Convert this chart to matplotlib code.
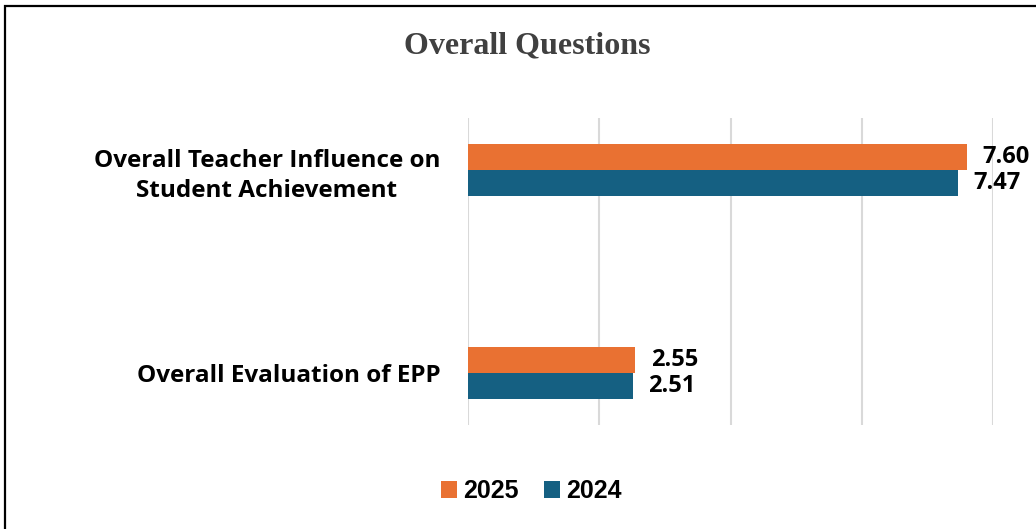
import numpy as np
import matplotlib.pyplot as plt
from matplotlib.patches import Rectangle

categories = ['Overall Teacher Influence on\nStudent Achievement', 'Overall Evaluation of EPP']
v2025 = [7.60, 2.55]
v2024 = [7.47, 2.51]
years = ['2025', '2024']
colors = {'2025': '#E97132', '2024': '#156082'}

fig = plt.figure(figsize=(10.36, 5.29), dpi=100)
W, H = 1036, 529

# frame line at top and left
fig.add_artist(Rectangle((5 / W, -0.1), 1.2, 1 - 6 / H + 0.1, transform=fig.transFigure,
                         fill=False, edgecolor='black', linewidth=1.6))

ax = fig.add_axes([468 / W, 1 - 425 / H, (993 - 468) / W, (425 - 118) / H])

y = np.array([1, 0])
h = 0.128
b1 = ax.barh(y + h / 2, v2025, h, color=colors['2025'], label='2025', zorder=3)
b2 = ax.barh(y - h / 2, v2024, h, color=colors['2024'], label='2024', zorder=3)

lab_font = dict(family='Open Sans', weight='bold', size=17.5)
ax.bar_label(b1, labels=['%.2f' % v for v in v2025], padding=11, fontsize=17,
             fontweight='bold', family='Open Sans', color='black')
ax.bar_label(b2, labels=['%.2f' % v for v in v2024], padding=11, fontsize=17,
             fontweight='bold', family='Open Sans', color='black')

ax.set_xlim(0, 8)
ax.set_ylim(-0.256, 1.256)
ax.set_xticks([0, 2, 4, 6, 8])
ax.set_xticklabels([])
ax.xaxis.grid(True, color='#d9d9d9', linewidth=1.5, zorder=0)
ax.tick_params(axis='x', length=0)
ax.set_yticks(y)
ax.set_yticklabels(categories, fontdict=lab_font, multialignment='center', linespacing=1.35)
ax.tick_params(axis='y', length=0, pad=20)
for s in ax.spines.values():
    s.set_visible(False)

fig.text(527 / W, 1 - 46 / H, 'Overall Questions', ha='center', va='center',
         family='Liberation Serif', weight='bold', size=23, color='#404040')

fig.legend(handles=[b1, b2], labels=years, loc='center', bbox_to_anchor=(531 / W, 1 - 491 / H),
           ncol=2, frameon=False, prop=dict(family='Liberation Sans', weight='bold', size=18),
           handlelength=0.65, handleheight=0.7, handletextpad=0.25, columnspacing=1.0)

fig.savefig('out.png', dpi=100)
